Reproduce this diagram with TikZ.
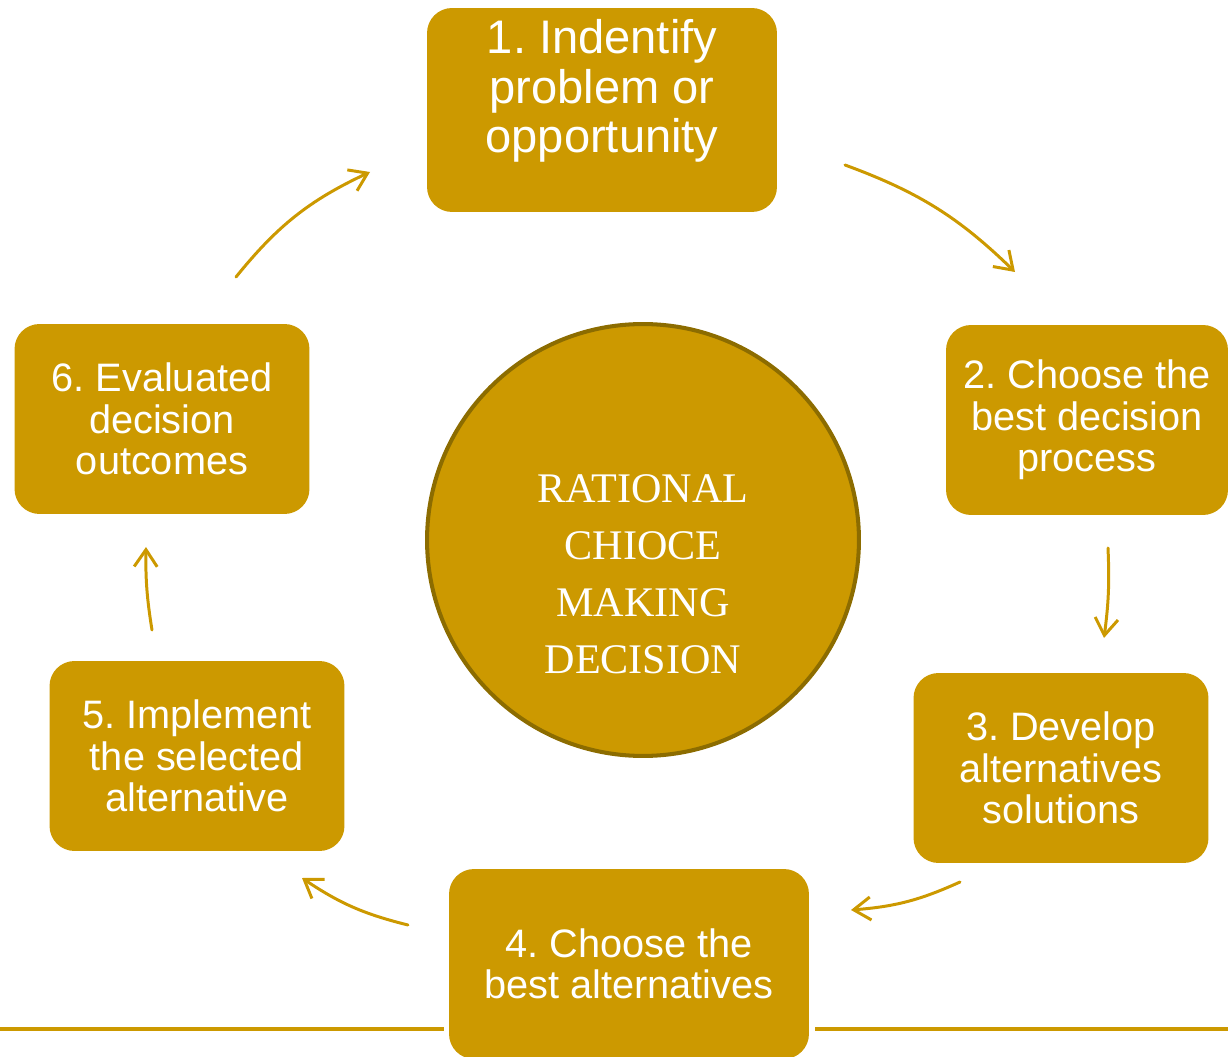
\documentclass[tikz,border=0pt]{standalone}
\usepackage{fontspec}
\setmainfont{Liberation Sans}
\newfontfamily\hubfont{Liberation Serif}
\usetikzlibrary{arrows.meta}
\tikzset{>={Straight Barb[length=3.4mm,width=4.6mm]}}
\definecolor{gold}{HTML}{CC9900}
\definecolor{darkgold}{HTML}{8C6C00}
\frenchspacing

\begin{document}
\begin{tikzpicture}[x=0.02cm,y=-0.02cm,font=\fontsize{22.6}{23.6}\selectfont]
\tikzstyle{box}=[rectangle,rounded corners=0.5cm,fill=gold,text=white,align=center,minimum width=5.9cm,minimum height=3.8cm,inner sep=0]
\tikzstyle{flow}=[->,gold,line width=1.7pt,line cap=round]

    \path[use as bounding box,clip] (0,0) rectangle (1228,1057);

    % rule along the bottom, broken behind step 4
    \draw[gold,line width=2.3pt] (0,1029) -- (444,1029);
    \draw[gold,line width=2.3pt] (815,1029) -- (1228,1029);

    \node[circle,draw=darkgold,line width=2.3pt,fill=gold,minimum size=8.64cm,inner sep=0,text=white,align=center,text height=5.35cm,font=\hubfont\fontsize{24}{32.4}\selectfont] (c) at (643,540) {RATIONAL\\CHIOCE\\MAKING\\DECISION};

    \node[box,minimum width=7cm,minimum height=4.08cm,text depth=0.96cm,font=\fontsize{26.8}{28.4}\selectfont] (1) at (602,110) {1. Indentify\\problem or\\opportunity};
    \node[box,minimum width=5.64cm] (2) at (1087,420) {2. Choose the\\best decision\\process};
    \node[box] (3) at (1061,768) {3. Develop\\alternatives\\solutions};
    \node[box,minimum width=7.2cm] (4) at (629,964) {4. Choose the\\best alternatives};
    \node[box] (5) at (197,756) {5. Implement\\the selected\\alternative};
    \node[box] (6) at (162,419) {6. Evaluated\\decision\\outcomes};

    % arrow ends
    \coordinate (a1) at (845,165);  \coordinate (b1) at (1015,272);
    \coordinate (a2) at (1108,548); \coordinate (b2) at (1104,638);
    \coordinate (a3) at (960,882);  \coordinate (b3) at (851,910);
    \coordinate (a4) at (408,925);  \coordinate (b4) at (302,878);
    \coordinate (a5) at (152,630);  \coordinate (b5) at (146,547);
    \coordinate (a6) at (236,277);  \coordinate (b6) at (370,172);

    \draw[flow] (a1) to[bend left=12] (b1);
    \draw[flow] (a2) to[bend left=5] (b2);
    \draw[flow] (a3) to[bend left=10] (b3);
    \draw[flow] (a4) to[bend left=10] (b4);
    \draw[flow] (a5) to[bend left=5] (b5);
    \draw[flow] (a6) to[bend left=13] (b6);

\end{tikzpicture}
\end{document}
